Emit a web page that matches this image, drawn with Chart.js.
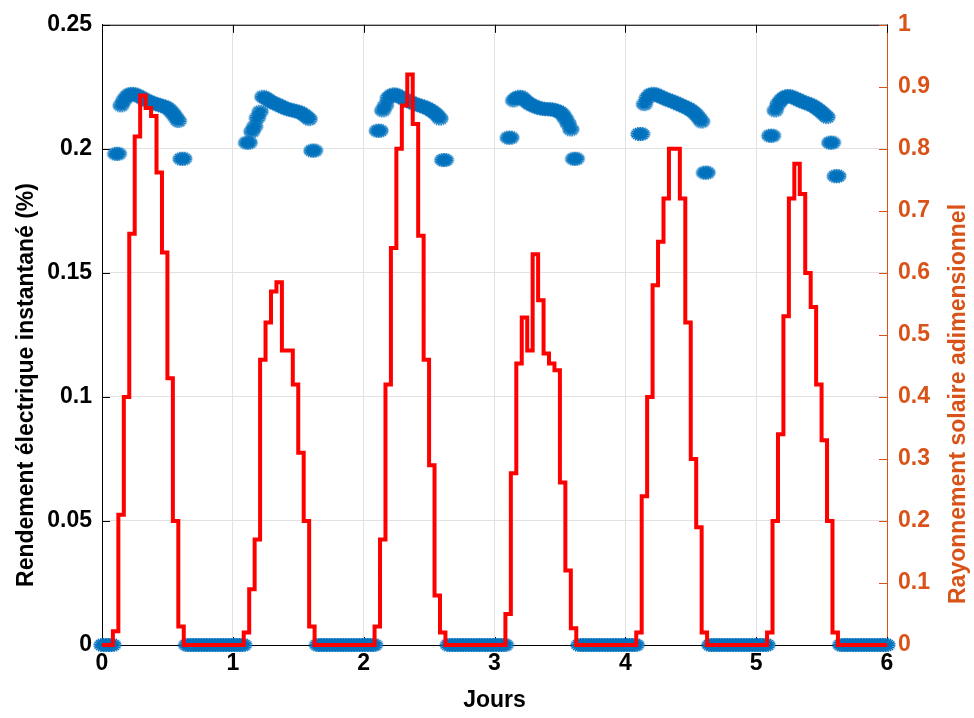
<!DOCTYPE html>
<html><head><meta charset="utf-8">
<script src="https://cdn.jsdelivr.net/npm/chart.js@4.4.1/dist/chart.umd.min.js"></script>
<style>html,body{margin:0;padding:0;background:#fff}#wrap{width:974px;height:718px;position:relative}</style>
</head><body><div id="wrap"><canvas id="c"></canvas></div>
<script>
// ---- tick values / labels ----
const xTicks = [0, 1, 2, 3, 4, 5, 6];
const xTickLabels = ['0', '1', '2', '3', '4', '5', '6'];
const leftTicks = [0, 0.05, 0.1, 0.15, 0.2, 0.25];
const leftTickLabels = ['0', '0.05', '0.1', '0.15', '0.2', '0.25'];
const rightTicks = [0, 0.1, 0.2, 0.3, 0.4, 0.5, 0.6, 0.7, 0.8, 0.9, 1];
const rightTickLabels = ['0', '0.1', '0.2', '0.3', '0.4', '0.5', '0.6', '0.7', '0.8', '0.9', '1'];

// ---- dimensionless solar radiation, hourly (value held over [h, h+1)) ----
const radDay0 = [0, 0, 0.022, 0.21, 0.40, 0.663, 0.82, 0.886, 0.866, 0.853, 0.762, 0.633, 0.43, 0.20, 0.03, 0, 0, 0, 0, 0, 0, 0, 0, 0];
const radDay1 = [0, 0, 0.02, 0.09, 0.17, 0.46, 0.52, 0.57, 0.585, 0.475, 0.475, 0.42, 0.31, 0.20, 0.03, 0, 0, 0, 0, 0, 0, 0, 0, 0];
const radDay2 = [0, 0, 0.03, 0.17, 0.42, 0.64, 0.80, 0.87, 0.92, 0.84, 0.66, 0.46, 0.29, 0.08, 0.02, 0, 0, 0, 0, 0, 0, 0, 0, 0];
const radDay3 = [0, 0, 0.05, 0.277, 0.454, 0.528, 0.475, 0.63, 0.556, 0.47, 0.454, 0.443, 0.262, 0.12, 0.027, 0, 0, 0, 0, 0, 0, 0, 0, 0];
const radDay4 = [0, 0, 0.02, 0.24, 0.40, 0.58, 0.65, 0.72, 0.80, 0.80, 0.72, 0.52, 0.30, 0.19, 0.02, 0, 0, 0, 0, 0, 0, 0, 0, 0];
const radDay5 = [0, 0, 0.02, 0.20, 0.34, 0.53, 0.72, 0.776, 0.727, 0.60, 0.545, 0.42, 0.33, 0.20, 0.02, 0, 0, 0, 0, 0, 0, 0, 0, 0];

// ---- instantaneous electrical efficiency, every half hour ----
const effDay0 = [0, 0, 0, 0, 0, 0.198, 0.198,
  0.2175, 0.2195, 0.221, 0.222, 0.2222, 0.222, 0.2215, 0.221, 0.2203, 0.2198, 0.2192, 0.2188, 0.2183, 0.218, 0.2177, 0.2173, 0.217, 0.2165, 0.2155, 0.2143, 0.2128, 0.2112,
  0.196, 0.196, 0, 0, 0, 0, 0, 0, 0, 0, 0, 0, 0, 0, 0, 0, 0, 0, 0];
const effDay1 = [0, 0, 0, 0, 0, 0.2025, 0.2025,
  0.207, 0.209, 0.2125, 0.215, 0.221, 0.2205, 0.2198, 0.219, 0.2185, 0.218, 0.2175, 0.217, 0.2165, 0.216, 0.2158, 0.2155, 0.2152, 0.215, 0.2145, 0.2138, 0.213, 0.212,
  0.1993, 0.1993, 0, 0, 0, 0, 0, 0, 0, 0, 0, 0, 0, 0, 0, 0, 0, 0, 0];
const effDay2 = [0, 0, 0, 0, 0, 0.2073, 0.2073,
  0.2155, 0.2175, 0.2205, 0.2215, 0.222, 0.2218, 0.2212, 0.2205, 0.22, 0.2195, 0.219, 0.2185, 0.218, 0.2177, 0.2173, 0.217, 0.2165, 0.216, 0.2153, 0.2145, 0.2135, 0.2122,
  0.1955, 0.1955, 0, 0, 0, 0, 0, 0, 0, 0, 0, 0, 0, 0, 0, 0, 0, 0, 0];
const effDay3 = [0, 0, 0, 0, 0, 0.2045, 0.2045,
  0.2195, 0.2205, 0.221, 0.2208, 0.2198, 0.2188, 0.218, 0.2175, 0.217, 0.2166, 0.2163, 0.2161, 0.216, 0.216, 0.2159, 0.2157, 0.2153, 0.2148, 0.2138, 0.2122, 0.2102, 0.2078,
  0.196, 0.196, 0, 0, 0, 0, 0, 0, 0, 0, 0, 0, 0, 0, 0, 0, 0, 0, 0];
const effDay4 = [0, 0, 0, 0, 0, 0.206, 0.206,
  0.218, 0.2205, 0.2218, 0.2222, 0.222, 0.2215, 0.221, 0.2205, 0.22, 0.2196, 0.2192, 0.2188, 0.2183, 0.2178, 0.2173, 0.2168, 0.2163, 0.2157, 0.2148, 0.2138, 0.2125, 0.211,
  0.1904, 0.1904, 0, 0, 0, 0, 0, 0, 0, 0, 0, 0, 0, 0, 0, 0, 0, 0, 0];
const effDay5 = [0, 0, 0, 0, 0, 0.2053, 0.2053,
  0.2155, 0.218, 0.2195, 0.2205, 0.2212, 0.2213, 0.221, 0.2205, 0.22, 0.2195, 0.219, 0.2186, 0.2182, 0.2178, 0.2172, 0.2165, 0.2157, 0.2148, 0.2138, 0.2128, 0.2025, 0.2025,
  0.189, 0.189, 0, 0, 0, 0, 0, 0, 0, 0, 0, 0, 0, 0, 0, 0, 0, 0, 0];

const radiation = [radDay0, radDay1, radDay2, radDay3, radDay4, radDay5];
const efficiency = [effDay0, effDay1, effDay2, effDay3, effDay4, effDay5];

// build point tables (time in days)
const radPts = [];
radiation.forEach((arr, d) => arr.forEach((v, h) => radPts.push({x: d + h / arr.length, y: v})));
radPts.push({x: radiation.length, y: 0});
const effPts = [];
efficiency.forEach((arr, d) => arr.forEach((v, k) => effPts.push({x: d + k / arr.length, y: v})));
effPts.push({x: efficiency.length, y: 0});

const ORANGE = '#D95319';
const BLUE = '#0072BD';
const FONT = 'Liberation Sans, Arial, Helvetica, sans-serif';
const tickFont = {family: FONT, size: 23, weight: 'bold'};
const titleFont = {family: FONT, size: 23, weight: 'bold'};

// dense asterisk-like marker image
function makeBurst() {
  const rx = 8.5, ry = 7, s = 20;
  const cv = document.createElement('canvas');
  cv.width = s; cv.height = s;
  const g = cv.getContext('2d');
  g.strokeStyle = BLUE; g.fillStyle = BLUE; g.lineWidth = 1.5; g.lineCap = 'butt';
  const c = s / 2;
  for (let k = 0; k < 10; k++) {
    const a = k * Math.PI / 10 + 0.15;
    g.beginPath();
    g.moveTo(c - Math.cos(a) * rx, c - Math.sin(a) * ry);
    g.lineTo(c + Math.cos(a) * rx, c + Math.sin(a) * ry);
    g.stroke();
  }
  g.beginPath(); g.ellipse(c, c, 5.2, 4.2, 0, 0, 2 * Math.PI); g.fill();
  return cv;
}
const burst = makeBurst();

const framePlugin = {
  id: 'frame',
  beforeDatasetsDraw(chart) {
    const {ctx, chartArea: a, scales} = chart;
    ctx.save();
    ctx.lineWidth = 1;
    ctx.strokeStyle = '#000';
    ctx.beginPath();
    ctx.moveTo(a.left, a.top + 0.5); ctx.lineTo(a.right, a.top + 0.5);
    leftTicks.forEach(v => { const y = Math.round(scales.y.getPixelForValue(v)) + 0.5; ctx.moveTo(a.left, y); ctx.lineTo(a.left + 8, y); });
    xTicks.forEach(v => { const x = Math.round(scales.x.getPixelForValue(v)) + 0.5; ctx.moveTo(x, a.bottom); ctx.lineTo(x, a.bottom - 8); ctx.moveTo(x, a.top); ctx.lineTo(x, a.top + 8); });
    ctx.stroke();
    ctx.strokeStyle = ORANGE;
    ctx.beginPath();
    rightTicks.forEach(v => { const y = Math.round(scales.y1.getPixelForValue(v)) + 0.5; ctx.moveTo(a.right, y); ctx.lineTo(a.right - 8, y); });
    ctx.stroke();
    ctx.restore();
  },
  afterDraw(chart) {
    const {ctx} = chart;
    const o = chart.options.scales;
    ctx.save();
    ctx.font = 'bold 23px ' + FONT;
    ctx.textAlign = 'center';
    ctx.textBaseline = 'middle';
    ctx.fillStyle = '#000';
    ctx.translate(27, 385); ctx.rotate(-Math.PI / 2);
    ctx.fillText(o.y.title.text, 0, 0);
    ctx.restore();
    ctx.save();
    ctx.font = 'bold 23px ' + FONT;
    ctx.textAlign = 'center';
    ctx.textBaseline = 'middle';
    ctx.fillStyle = ORANGE;
    ctx.translate(959, 404); ctx.rotate(-Math.PI / 2);
    ctx.fillText(o.y1.title.text, 0, 0);
    ctx.restore();
  }
};

new Chart(document.getElementById('c'), {
  type: 'line',
  data: {
    datasets: [
      {label: 'Rayonnement solaire adimensionnel', data: radPts, yAxisID: 'y1', borderColor: '#FF0000', backgroundColor: '#FF0000',
       borderWidth: 4, pointRadius: 0, stepped: true, fill: false, borderJoinStyle: 'miter', order: 0, clip: false},
      {label: 'Rendement électrique instantané', data: effPts, yAxisID: 'y', showLine: false, pointStyle: burst,
       pointRadius: 8, pointBorderColor: BLUE, pointBackgroundColor: BLUE, order: 1, clip: false}
    ]
  },
  options: {
    responsive: true, maintainAspectRatio: false, animation: false, devicePixelRatio: 1,
    layout: {padding: {top: 24, left: 0, right: 0, bottom: 0}},
    plugins: {legend: {display: false}, tooltip: {enabled: false}},
    scales: {
      x: {type: 'linear', min: 0, max: 6,
        afterBuildTicks: s => { s.ticks = xTicks.map(v => ({value: v})); },
        afterFit: s => { s.height = 73; },
        ticks: {font: tickFont, color: '#000', padding: 5, maxRotation: 0, autoSkip: false,
          callback: (v, i) => xTickLabels[i]},
        grid: {color: '#e2e2e2', lineWidth: 1, drawTicks: false},
        border: {color: '#000', width: 1},
        title: {display: true, text: 'Jours', font: titleFont, color: '#000', padding: {top: 0, bottom: 4}}},
      y: {type: 'linear', position: 'left', min: 0, max: 0.25,
        afterBuildTicks: s => { s.ticks = leftTicks.map(v => ({value: v})); },
        afterFit: s => { s.width = 102; },
        ticks: {font: tickFont, color: '#000', padding: 10, autoSkip: false, callback: (v, i) => leftTickLabels[i]},
        grid: {color: '#e2e2e2', lineWidth: 1, drawTicks: false},
        border: {color: '#000', width: 1},
        title: {display: false, text: 'Rendement électrique instantané (%)'}},
      y1: {type: 'linear', position: 'right', min: 0, max: 1,
        afterBuildTicks: s => { s.ticks = rightTicks.map(v => ({value: v})); },
        afterFit: s => { s.width = 87; },
        ticks: {font: tickFont, color: ORANGE, padding: 11, autoSkip: false, callback: (v, i) => rightTickLabels[i]},
        grid: {drawOnChartArea: false, drawTicks: false},
        border: {color: ORANGE, width: 1},
        title: {display: false, text: 'Rayonnement solaire adimensionnel'}}
    }
  },
  plugins: [framePlugin]
});
</script>
</body></html>
